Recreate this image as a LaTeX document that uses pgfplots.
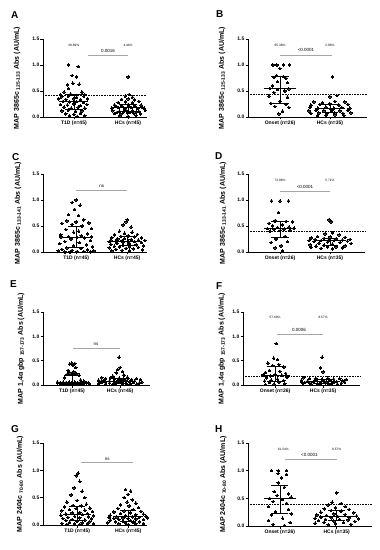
\documentclass[border=0pt]{standalone}
\usepackage{pgfplots}
\pgfplotsset{compat=1.18}
\usepackage{fontspec}
\setmainfont{Liberation Sans}
\pgfplotsset{
  gp/.style={
    scale only axis,
    axis x line*=bottom, axis y line*=left,
    axis line style={line width=0.8pt},
    ymin=0, ymax=1.5,
    ytick={0,0.5,1,1.5}, yticklabels={0.0,0.5,1.0,1.5},
    xtick={0,1},
    tick align=outside, major tick length=2.5pt,
    tick style={line width=0.6pt, black},
    yticklabel style={font=\bfseries\fontsize{5}{6}\selectfont, inner sep=1pt},
    xticklabel style={font=\bfseries\fontsize{5}{6}\selectfont, inner sep=1.5pt},
    ylabel style={font=\bfseries\fontsize{7}{8}\selectfont, anchor=center},
    clip=false,
  },
  dots/.style={only marks, mark=*, mark size=1.3pt, mark options={fill=black, draw=black, line width=0pt}},
  med/.style={black, line width=0.7pt},
  thr/.style={black, line width=0.5pt, dash pattern=on 0.8pt off 0.8pt},
  brk/.style={gray!70, line width=0.6pt},
}
\newcommand{\pct}[1]{{\fontsize{3.2}{4}\selectfont #1}}
\newcommand{\pv}[1]{{\fontsize{4.5}{5}\selectfont #1}}
\begin{document}
\begin{tikzpicture}
\useasboundingbox (0pt,0pt) rectangle (380pt,550pt);
\tikzset{panellab/.style={anchor=base west, inner sep=0pt, font=\bfseries\fontsize{10}{12}\selectfont}}
\node[panellab] at (11pt,531pt) {A};
\node[panellab] at (216pt,532pt) {B};
\node[panellab] at (12pt,389pt) {C};
\node[panellab] at (215pt,390pt) {D};
\node[panellab] at (10pt,262pt) {E};
\node[panellab] at (216pt,260pt) {F};
\node[panellab] at (11pt,117pt) {G};
\node[panellab] at (215pt,117pt) {H};

% ---------------- A
\begin{axis}[gp, at={(43pt,433pt)}, anchor=south west, width=104pt, height=78pt,
  xmin=-0.57, xmax=1.35, xticklabels={{T1D (n=45)},{HCs (n=45)}},
  ylabel={MAP 3865c \textsubscript{125-133} Abs (AU/mL)},
  ylabel style={at={(axis description cs:-0.25,0.5)}}]
\addplot[thr] coordinates {(-0.57,0.42) (1.35,0.42)};
\addplot[dots] coordinates {
(-0.10,1.00) (0.08,0.97) (-0.03,0.80) (0.05,0.77)
(-0.02,0.65) (-0.12,0.62) (0.10,0.63) (-0.10,0.55)
(-0.18,0.48) (0.15,0.48) (-0.25,0.43) (0.20,0.43) (-0.06,0.44)
(-0.22,0.39) (-0.10,0.40) (0.05,0.38) (0.18,0.40)
(-0.28,0.35) (-0.15,0.34) (0.00,0.35) (0.12,0.33) (0.25,0.35)
(-0.20,0.30) (-0.08,0.29) (0.05,0.30) (0.18,0.28)
(-0.25,0.24) (-0.12,0.23) (0.00,0.25) (0.12,0.22) (0.24,0.24)
(-0.18,0.19) (-0.05,0.17) (0.08,0.19) (0.20,0.17)
(-0.22,0.12) (-0.10,0.13) (0.03,0.11) (0.15,0.12)
(-0.15,0.06) (0.00,0.05) (0.12,0.07)
(-0.08,0.02) (0.06,0.01) (0.20,0.02)};
\addplot[dots] coordinates {
(1.00,0.77) (1.02,0.43) (0.95,0.40) (1.08,0.38)
(0.88,0.34) (1.00,0.35) (1.12,0.33)
(0.82,0.28) (0.95,0.29) (1.08,0.27) (1.20,0.30)
(0.75,0.23) (0.88,0.22) (1.00,0.24) (1.12,0.22) (1.24,0.23)
(0.78,0.20) (0.90,0.20) (1.02,0.21) (1.14,0.20) (1.26,0.19)
(0.70,0.17) (0.82,0.18) (0.94,0.16) (1.06,0.18) (1.18,0.16) (1.30,0.17)
(0.72,0.12) (0.84,0.11) (0.96,0.13) (1.08,0.12) (1.20,0.11) (1.32,0.13)
(0.80,0.09) (0.92,0.10) (1.04,0.09) (1.16,0.10)
(0.75,0.07) (0.87,0.06) (0.99,0.08) (1.11,0.07) (1.23,0.06)
(0.85,0.02) (1.00,0.01) (1.15,0.03)};
\addplot[med] coordinates {(-0.27,0.30) (0.27,0.30)};
\addplot[med] coordinates {(-0.16,0.44) (0.16,0.44)};
\addplot[med] coordinates {(-0.16,0.15) (0.16,0.15)};
\addplot[med] coordinates {(0,0.15) (0,0.44)};
\addplot[med] coordinates {(0.70,0.18) (1.30,0.18)};
\addplot[med] coordinates {(0.84,0.24) (1.16,0.24)};
\addplot[med] coordinates {(0.84,0.10) (1.16,0.10)};
\addplot[med] coordinates {(1,0.10) (1,0.24)};
\addplot[brk] coordinates {(0.27,1.18) (1.0,1.18)};
\node at (axis cs:0,1.37) {\pct{28.89\%}};
\node at (axis cs:1,1.37) {\pct{4.44\%}};
\node at (axis cs:0.63,1.27) {\pv{0.0016}};
\end{axis}

% ---------------- B
\begin{axis}[gp, at={(248pt,433pt)}, anchor=south west, width=119pt, height=78pt,
  xmin=-0.64, xmax=1.74, xticklabels={{Onset (n=26)},{HCs (n=35)}},
  ylabel={MAP 3865c \textsubscript{125-133} Abs (AU/mL)},
  ylabel style={at={(axis description cs:-0.218,0.5)}}]
\addplot[thr] coordinates {(-0.64,0.43) (1.74,0.43)};
\addplot[dots] coordinates {
(-0.14,1.00) (-0.06,1.00) (0.07,1.00) (0.19,1.00)
(0.00,0.93) (-0.07,0.80) (0.07,0.78) (-0.12,0.76) (0.12,0.74)
(-0.05,0.68) (0.15,0.66) (-0.15,0.60)
(-0.20,0.55) (0.18,0.54) (-0.05,0.53) (0.10,0.50) (-0.12,0.47)
(-0.22,0.40) (0.15,0.38) (0.00,0.30) (-0.18,0.26) (0.12,0.24)
(-0.10,0.20) (0.18,0.18) (0.05,0.11) (-0.02,0.06)};
\addplot[dots] coordinates {
(1.05,0.77) (1.14,0.41) (1.00,0.39)
(0.68,0.29) (0.85,0.28) (1.10,0.30) (1.30,0.29)
(0.62,0.23) (0.80,0.24) (1.00,0.25) (1.18,0.23) (1.36,0.24)
(0.60,0.18) (0.76,0.17) (0.92,0.19) (1.08,0.17) (1.24,0.18) (1.40,0.17)
(1.02,0.15)
(0.58,0.12) (0.72,0.13) (0.88,0.12) (1.04,0.13) (1.20,0.12) (1.36,0.13)
(0.62,0.07) (0.78,0.08) (0.94,0.07) (1.10,0.08) (1.26,0.07) (1.42,0.08)
(0.75,0.03) (0.92,0.03) (1.10,0.04) (1.28,0.03)};
\addplot[med] coordinates {(-0.32,0.55) (0.32,0.55)};
\addplot[med] coordinates {(-0.18,0.79) (0.18,0.79)};
\addplot[med] coordinates {(-0.18,0.27) (0.18,0.27)};
\addplot[med] coordinates {(0,0.27) (0,0.79)};
\addplot[med] coordinates {(0.70,0.17) (1.30,0.17)};
\addplot[med] coordinates {(0.84,0.24) (1.16,0.24)};
\addplot[med] coordinates {(0.84,0.08) (1.16,0.08)};
\addplot[med] coordinates {(1,0.08) (1,0.24)};
\addplot[brk] coordinates {(0,1.19) (1.04,1.19)};
\node at (axis cs:0,1.37) {\pct{65.38\%}};
\node at (axis cs:1,1.37) {\pct{2.86\%}};
\node at (axis cs:0.52,1.28) {\pv{<0.0001}};
\end{axis}

% ---------------- C
\begin{axis}[gp, at={(43pt,298pt)}, anchor=south west, width=104pt, height=78pt,
  xmin=-0.65, xmax=1.39, xticklabels={{T1D (n=45)},{HCs (n=45)}},
  ylabel={MAP 3865c \textsubscript{133-141} Abs (AU/mL)},
  ylabel style={at={(axis description cs:-0.24,0.5)}}]
\addplot[dots] coordinates {
(0.00,1.00) (-0.08,0.95) (0.08,0.90) (-0.03,0.82)
(-0.15,0.72) (0.05,0.70)
(0.15,0.62) (-0.18,0.60) (0.00,0.58) (0.25,0.56) (-0.28,0.55) (-0.08,0.53) (0.12,0.50)
(0.30,0.45) (-0.20,0.43) (0.05,0.40) (-0.05,0.38) (0.22,0.35) (-0.30,0.33) (0.10,0.31)
(-0.15,0.30) (-0.30,0.29) (0.30,0.29) (0.02,0.28) (0.16,0.27) (-0.10,0.25) (0.28,0.22) (-0.22,0.20)
(0.06,0.18) (-0.32,0.16) (0.20,0.14) (-0.05,0.12) (0.32,0.10) (-0.18,0.08) (0.10,0.07) (-0.28,0.05) (0.22,0.04)
(-0.08,0.03) (0.35,0.02) (-0.35,0.02) (0.02,0.01) (0.15,0.01) (-0.22,0.00) (0.28,0.00) (-0.12,0.00)};
\addplot[dots] coordinates {
(1.00,0.62) (0.98,0.58) (0.92,0.52) (1.08,0.48)
(0.85,0.40) (1.10,0.38) (0.95,0.36) (1.20,0.34) (0.75,0.33) (1.02,0.31) (0.88,0.30)
(1.15,0.29) (0.70,0.28) (1.28,0.27) (0.95,0.26) (0.82,0.25) (1.08,0.24) (1.22,0.23) (0.68,0.23) (0.90,0.22) (1.35,0.22) (1.02,0.21) (0.78,0.21)
(1.15,0.20) (0.65,0.20) (0.92,0.19) (1.28,0.18) (0.80,0.17) (1.05,0.16) (0.68,0.15) (1.18,0.14) (0.92,0.13) (1.32,0.12) (0.75,0.11) (1.05,0.10) (0.85,0.10)
(1.22,0.09) (0.65,0.08) (0.98,0.07) (1.12,0.06) (0.78,0.05) (1.30,0.04) (0.90,0.03) (1.05,0.02) (0.70,0.02)};
\addplot[med] coordinates {(-0.28,0.29) (0.28,0.29)};
\addplot[med] coordinates {(-0.16,0.50) (0.16,0.50)};
\addplot[med] coordinates {(-0.16,0.08) (0.16,0.08)};
\addplot[med] coordinates {(0,0.08) (0,0.50)};
\addplot[med] coordinates {(0.70,0.21) (1.30,0.21)};
\addplot[med] coordinates {(0.84,0.30) (1.16,0.30)};
\addplot[med] coordinates {(0.84,0.12) (1.16,0.12)};
\addplot[med] coordinates {(1,0.12) (1,0.30)};
\addplot[brk] coordinates {(0,1.18) (1,1.18)};
\node at (axis cs:0.5,1.26) {\pv{ns}};
\end{axis}

% ---------------- D
\begin{axis}[gp, at={(248pt,298pt)}, anchor=south west, width=117pt, height=78pt,
  xmin=-0.64, xmax=1.70, xticklabels={{Onset (n=26)},{HCs (n=35)}},
  ylabel={MAP 3865c \textsubscript{133-141} Abs (AU/mL)},
  ylabel style={at={(axis description cs:-0.214,0.5)}}]
\addplot[thr] coordinates {(-0.64,0.39) (1.70,0.39)};
\addplot[dots] coordinates {
(-0.17,0.98) (0.00,0.98) (0.17,0.98) (-0.03,0.76)
(-0.10,0.60) (0.12,0.59) (0.25,0.58) (-0.22,0.55) (0.05,0.52) (-0.15,0.50) (0.18,0.48) (-0.05,0.47) (0.28,0.46) (-0.25,0.45) (0.08,0.44) (-0.12,0.43) (0.20,0.42) (0.00,0.41) (-0.20,0.40)
(0.10,0.30) (-0.08,0.25) (0.15,0.20) (-0.18,0.18) (0.02,0.12) (-0.10,0.08) (0.05,0.02)};
\addplot[dots] coordinates {
(0.98,0.62) (1.02,0.58)
(1.05,0.37) (0.90,0.35) (1.18,0.33) (0.75,0.30) (1.00,0.29) (1.30,0.28) (0.62,0.27) (0.88,0.26) (1.12,0.25) (1.40,0.24) (0.70,0.24) (0.98,0.23) (1.25,0.23) (0.58,0.22) (0.82,0.22) (1.08,0.22)
(1.35,0.21) (0.68,0.20) (0.95,0.19) (1.20,0.18) (0.78,0.17) (1.42,0.16) (1.05,0.15) (0.60,0.14) (0.88,0.13) (1.30,0.12) (0.72,0.11) (1.12,0.10) (0.95,0.10) (0.62,0.09) (1.25,0.08) (0.82,0.07) (1.05,0.06)};
\addplot[med] coordinates {(-0.32,0.45) (0.32,0.45)};
\addplot[med] coordinates {(-0.18,0.58) (0.18,0.58)};
\addplot[med] coordinates {(-0.18,0.28) (0.18,0.28)};
\addplot[med] coordinates {(0,0.28) (0,0.58)};
\addplot[med] coordinates {(0.68,0.22) (1.32,0.22)};
\addplot[med] coordinates {(0.84,0.27) (1.16,0.27)};
\addplot[med] coordinates {(0.84,0.12) (1.16,0.12)};
\addplot[med] coordinates {(1,0.12) (1,0.27)};
\addplot[brk] coordinates {(0,1.16) (1,1.16)};
\node at (axis cs:0,1.37) {\pct{73.08\%}};
\node at (axis cs:1,1.37) {\pct{5.71\%}};
\node at (axis cs:0.5,1.26) {\pv{<0.0001}};
\end{axis}

% ---------------- E
\begin{axis}[gp, at={(43pt,165pt)}, anchor=south west, width=107pt, height=73pt,
  xmin=-0.6, xmax=1.62, xticklabels={{T1D (n=45)},{HCs (n=45)}},
  ylabel={MAP 1,4α gbp \textsubscript{157-173} Abs (AU/mL)},
  ylabel style={at={(axis description cs:-0.206,0.5)}}]
\addplot[dots] coordinates {
(0.00,0.45) (0.06,0.44) (-0.05,0.43) (0.02,0.40) (0.08,0.36) (-0.08,0.30) (0.04,0.27) (-0.04,0.25) (0.10,0.23) (-0.10,0.22) (0.02,0.21) (0.15,0.20) (-0.15,0.15) (0.18,0.10) (0.25,0.08)
(-0.30,0.06) (-0.18,0.06) (-0.06,0.06) (0.06,0.06) (0.18,0.06)
(-0.24,0.05) (-0.12,0.05) (0.00,0.05) (0.12,0.05) (0.24,0.05) (0.34,0.05)
(-0.30,0.04) (-0.18,0.04) (-0.06,0.04) (0.06,0.04) (0.18,0.04) (0.30,0.04)
(-0.24,0.03) (-0.12,0.03) (0.00,0.03) (0.12,0.03) (0.24,0.03) (0.36,0.03)
(-0.18,0.02) (-0.06,0.02) (0.06,0.02) (0.18,0.02)
(-0.12,0.01) (0.00,0.01) (0.12,0.01)};
\addplot[dots] coordinates {
(0.98,0.57) (1.00,0.36) (0.95,0.32) (1.05,0.28) (0.92,0.25) (1.08,0.20) (0.85,0.18) (1.15,0.16)
(0.62,0.15) (0.80,0.15) (0.98,0.14) (1.16,0.14) (1.34,0.13) (0.70,0.13) (0.88,0.12) (1.06,0.12) (1.24,0.11) (1.42,0.11) (0.55,0.10) (0.95,0.10)
(0.65,0.09) (1.12,0.09) (0.78,0.08) (1.02,0.08) (1.30,0.08) (0.58,0.07) (0.88,0.07) (1.20,0.07) (0.70,0.06) (1.05,0.06) (1.45,0.06)
(0.62,0.05) (0.95,0.05) (1.28,0.05) (0.78,0.04) (1.12,0.04) (1.40,0.04) (0.55,0.03) (0.90,0.03) (1.22,0.03) (0.70,0.02) (1.05,0.02) (1.35,0.02) (0.85,0.01) (1.15,0.01)};
\addplot[med] coordinates {(-0.30,0.05) (0.30,0.05)};
\addplot[med] coordinates {(-0.17,0.19) (0.17,0.19)};
\addplot[med] coordinates {(-0.17,0.03) (0.17,0.03)};
\addplot[med] coordinates {(0,0.03) (0,0.19)};
\addplot[med] coordinates {(0.70,0.08) (1.30,0.08)};
\addplot[med] coordinates {(0.83,0.13) (1.17,0.13)};
\addplot[med] coordinates {(0.83,0.04) (1.17,0.04)};
\addplot[med] coordinates {(1,0.04) (1,0.13)};
\addplot[brk] coordinates {(0.03,0.76) (0.99,0.76)};
\node at (axis cs:0.5,0.84) {\pv{ns}};
\end{axis}

% ---------------- F
\begin{axis}[gp, at={(243pt,165pt)}, anchor=south west, width=117pt, height=73pt,
  xmin=-0.67, xmax=1.77, xticklabels={{Onset (n=26)},{HCs (n=35)}},
  ylabel={MAP 1,4α gbp \textsubscript{157-173} Abs (AU/mL)},
  ylabel style={at={(axis description cs:-0.18,0.5)}}]
\addplot[thr] coordinates {(-0.67,0.17) (1.77,0.17)};
\addplot[dots] coordinates {
(0.02,0.85) (-0.03,0.55) (0.05,0.52) (-0.15,0.45) (0.08,0.42) (-0.05,0.40) (0.18,0.37) (-0.12,0.30) (0.10,0.28) (-0.20,0.26) (0.22,0.24) (0.00,0.22) (-0.25,0.21) (0.14,0.20) (-0.10,0.19)
(0.25,0.16) (-0.18,0.15) (0.05,0.12) (-0.08,0.10) (0.18,0.09) (-0.22,0.08) (0.08,0.06) (-0.12,0.05) (0.20,0.03) (-0.02,0.02) (-0.20,0.01)};
\addplot[dots] coordinates {
(0.98,0.57) (0.95,0.35) (1.00,0.27)
(0.60,0.15) (0.85,0.14) (1.10,0.14) (1.35,0.13) (0.72,0.13) (0.98,0.12) (1.22,0.12) (1.48,0.11) (0.55,0.10) (0.85,0.10) (1.15,0.09) (1.40,0.09) (0.68,0.08) (1.02,0.08)
(1.28,0.07) (0.55,0.07) (0.80,0.06) (1.08,0.06) (1.45,0.06) (0.62,0.05) (0.95,0.05) (1.22,0.05) (0.72,0.04) (1.05,0.04) (1.38,0.04) (0.58,0.03) (0.88,0.03) (1.18,0.03) (0.75,0.02) (1.30,0.02) (0.95,0.01) (1.12,0.01)};
\addplot[med] coordinates {(-0.30,0.20) (0.30,0.20)};
\addplot[med] coordinates {(-0.17,0.38) (0.17,0.38)};
\addplot[med] coordinates {(-0.17,0.08) (0.17,0.08)};
\addplot[med] coordinates {(0,0.08) (0,0.38)};
\addplot[med] coordinates {(0.65,0.07) (1.35,0.07)};
\addplot[med] coordinates {(0.82,0.12) (1.18,0.12)};
\addplot[med] coordinates {(0.82,0.04) (1.18,0.04)};
\addplot[med] coordinates {(1,0.04) (1,0.12)};
\addplot[brk] coordinates {(0.03,1.05) (1.0,1.05)};
\node at (axis cs:0,1.38) {\pct{57.69\%}};
\node at (axis cs:1,1.38) {\pct{8.57\%}};
\node at (axis cs:0.5,1.14) {\pv{0.0006}};
\end{axis}

% ---------------- G
\begin{axis}[gp, at={(43pt,25pt)}, anchor=south west, width=104pt, height=82pt,
  xmin=-0.67, xmax=1.37, xticklabels={{T1D (n=45)},{HCs (n=45)}},
  ylabel={MAP 2404c \textsubscript{70-80} Abs (AU/mL)},
  ylabel style={at={(axis description cs:-0.22,0.5)}}]
\addplot[dots] coordinates {
(0.02,0.95) (-0.02,0.90) (0.05,0.80) (-0.06,0.68) (0.10,0.62) (-0.12,0.55) (0.15,0.50) (0.00,0.45) (-0.20,0.42) (0.18,0.38) (-0.08,0.36) (0.08,0.35)
(-0.25,0.33) (0.25,0.31) (-0.02,0.30) (-0.15,0.28) (0.15,0.27) (-0.30,0.26) (0.30,0.25) (0.05,0.23) (-0.10,0.22) (0.20,0.21) (-0.22,0.20)
(0.10,0.19) (-0.32,0.18) (0.32,0.17) (-0.05,0.16) (0.22,0.15) (-0.18,0.14) (0.05,0.13) (-0.28,0.12) (0.28,0.11) (-0.10,0.10) (0.15,0.09) (-0.22,0.08) (0.00,0.07) (0.25,0.06) (-0.15,0.05) (0.10,0.04) (-0.30,0.03) (0.20,0.03) (-0.05,0.02) (0.32,0.02) (-0.20,0.01) (0.05,0.01)};
\addplot[dots] coordinates {
(0.95,0.65) (1.05,0.62) (1.00,0.56) (0.92,0.50) (1.08,0.46) (0.98,0.42) (1.15,0.40) (0.85,0.37) (1.02,0.35) (1.20,0.32) (0.80,0.30) (1.10,0.28)
(0.92,0.26) (1.25,0.25) (0.72,0.24) (1.05,0.22) (0.85,0.21) (1.30,0.20) (1.15,0.19) (0.65,0.18) (0.95,0.17) (1.35,0.16) (0.78,0.15)
(1.08,0.15) (0.62,0.14) (1.22,0.14) (0.90,0.13) (1.38,0.13) (0.72,0.12) (1.00,0.12) (1.15,0.11) (0.82,0.10) (1.30,0.10) (0.65,0.09) (1.05,0.08) (0.90,0.07) (1.22,0.06) (0.75,0.06) (1.10,0.05) (0.60,0.04) (0.95,0.04) (1.30,0.03) (0.82,0.02) (1.15,0.02) (1.00,0.01)};
\addplot[med] coordinates {(-0.28,0.20) (0.28,0.20)};
\addplot[med] coordinates {(-0.16,0.35) (0.16,0.35)};
\addplot[med] coordinates {(-0.16,0.08) (0.16,0.08)};
\addplot[med] coordinates {(0,0.08) (0,0.35)};
\addplot[med] coordinates {(0.70,0.15) (1.30,0.15)};
\addplot[med] coordinates {(0.84,0.27) (1.16,0.27)};
\addplot[med] coordinates {(0.84,0.07) (1.16,0.07)};
\addplot[med] coordinates {(1,0.07) (1,0.27)};
\addplot[brk] coordinates {(0.08,1.14) (1.1,1.14)};
\node at (axis cs:0.59,1.21) {\pv{ns}};
\end{axis}

% ---------------- H
\begin{axis}[gp, at={(248pt,24pt)}, anchor=south west, width=124pt, height=83pt,
  xmin=-0.56, xmax=1.62, xticklabels={{Onset (n=26)},{HCs (n=35)}},
  ylabel={MAP 2404c \textsubscript{70-80} Abs (AU/mL)},
  ylabel style={at={(axis description cs:-0.20,0.5)}}]
\addplot[thr] coordinates {(-0.56,0.39) (1.62,0.39)};
\addplot[dots] coordinates {
(-0.15,1.00) (-0.03,1.00) (0.12,1.00) (-0.03,0.95) (0.12,0.93) (0.03,0.87) (-0.03,0.78) (0.08,0.70) (-0.10,0.62) (0.15,0.58) (-0.05,0.55) (0.20,0.52) (-0.18,0.50) (0.05,0.48) (-0.12,0.44) (0.12,0.41)
(-0.20,0.35) (0.15,0.30) (-0.08,0.26) (0.20,0.22) (-0.15,0.20) (0.05,0.14) (-0.20,0.10) (0.18,0.06) (-0.12,0.03) (0.08,0.01)};
\addplot[dots] coordinates {
(1.00,0.60) (0.92,0.43) (1.08,0.41) (0.85,0.38) (1.15,0.35) (0.98,0.33) (0.78,0.31) (1.22,0.30) (0.90,0.28) (1.08,0.27) (0.72,0.25) (1.30,0.24) (0.95,0.22) (1.15,0.21) (0.65,0.20) (0.82,0.19) (1.35,0.18) (1.02,0.17)
(0.72,0.16) (1.22,0.15) (0.90,0.15) (0.62,0.14) (1.38,0.13) (1.05,0.12) (0.80,0.12) (1.20,0.11) (0.68,0.10) (0.95,0.09) (1.32,0.08) (0.78,0.07) (1.12,0.06) (0.62,0.05) (0.98,0.04) (1.25,0.03) (0.85,0.02)};
\addplot[med] coordinates {(-0.28,0.50) (0.28,0.50)};
\addplot[med] coordinates {(-0.15,0.73) (0.15,0.73)};
\addplot[med] coordinates {(-0.15,0.22) (0.15,0.22)};
\addplot[med] coordinates {(0,0.22) (0,0.73)};
\addplot[med] coordinates {(0.68,0.17) (1.32,0.17)};
\addplot[med] coordinates {(0.85,0.28) (1.15,0.28)};
\addplot[med] coordinates {(0.85,0.10) (1.15,0.10)};
\addplot[med] coordinates {(1,0.10) (1,0.28)};
\addplot[brk] coordinates {(0.09,1.21) (1.0,1.21)};
\node at (axis cs:0.06,1.39) {\pct{61.54\%}};
\node at (axis cs:1,1.39) {\pct{8.57\%}};
\node at (axis cs:0.52,1.29) {\pv{<0.0001}};
\end{axis}
\end{tikzpicture}
\end{document}
